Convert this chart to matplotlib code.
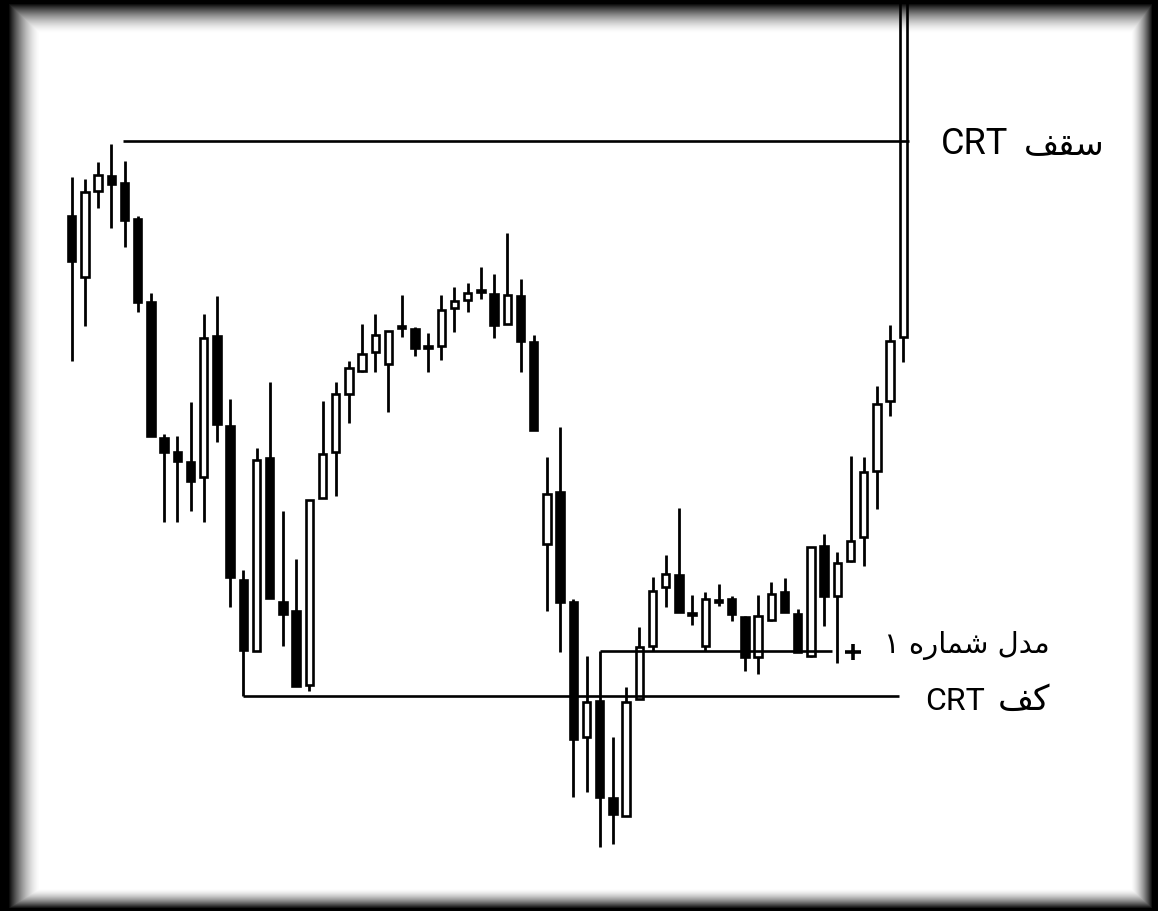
import numpy as np
import matplotlib
matplotlib.use('Agg')
import matplotlib.pyplot as plt

# candle data (price units, one row per bar)
opens = [783, 722, 808, 823, 816, 780, 697, 561, 547, 537, 522, 663, 573, 419, 348, 541,
         397, 388, 314, 501, 547, 605, 628, 647, 635, 673, 670, 653, 653, 691, 699, 709,
         705, 675, 703, 657, 455, 507, 397, 262, 298, 201, 183, 300, 353, 412, 424, 386,
         353, 399, 400, 382, 342, 379, 407, 385, 343, 453, 403, 438, 462, 528, 598, 662]
highs = [822, 820, 837, 855, 838, 783, 706, 565, 563, 597, 685, 703, 600, 429, 551, 617,
         488, 440, 499, 598, 617, 638, 675, 685, 668, 704, 672, 666, 704, 712, 716, 732,
         725, 766, 720, 664, 542, 572, 400, 343, 348, 262, 312, 372, 422, 444, 491, 404,
         407, 415, 403, 383, 404, 417, 421, 390, 452, 465, 447, 543, 542, 613, 674, 1030]
lows = [638, 673, 791, 771, 752, 687, 563, 477, 477, 488, 477, 557, 392, 303, 348, 401,
        353, 313, 308, 501, 503, 576, 627, 627, 587, 662, 643, 627, 639, 667, 687, 700,
        661, 675, 627, 569, 388, 347, 202, 207, 152, 155, 183, 300, 348, 392, 387, 374,
        348, 393, 378, 328, 325, 378, 387, 347, 342, 373, 336, 437, 433, 490, 583, 637]
closes = [738, 807, 824, 815, 779, 697, 563, 547, 538, 518, 661, 575, 422, 349, 539, 401,
          385, 313, 499, 545, 605, 631, 645, 664, 668, 671, 651, 651, 689, 698, 706, 707,
          674, 704, 658, 569, 505, 397, 260, 297, 202, 185, 297, 352, 408, 425, 387, 384,
          400, 397, 385, 342, 383, 405, 387, 347, 452, 403, 436, 458, 527, 595, 658, 1030]

# horizontal levels: (price, first bar, last bar)
crt_high = (858, 3.9, 63.4)
crt_low = (303, 13.0, 62.7)
model_one = (348, 40.0, 57.6)
entry_mark = (59.2, 347)

# Persian words in visual (left-to-right) order, already shaped
word_high = '\ufed2\ufed8\ufeb3'                                  # سقف
word_low = '\ufed2\ufedb'                                         # کف
label_model = '\u06f1 \ufee9\ufead\ufe8e\ufee4\ufeb7 \ufedd\ufeaa\ufee3'  # مدل شماره ۱

W, H = 1158, 912
fig = plt.figure(figsize=(W / 100, H / 100), dpi=100)
ax = fig.add_axes([0, 0, 1, 1])
ax.set_xlim(-71.7 / 13.2, (W - 71.7) / 13.2)
ax.set_ylim(1000 - H, 1000)
ax.axis('off')

o = np.array(opens)
c = np.array(closes)
x = np.arange(len(o))
up = c >= o

ax.vlines(x, lows, highs, color='black', lw=2.0, zorder=1)
ax.bar(x, np.maximum(np.abs(c - o), 1), bottom=np.minimum(o, c), width=0.56,
       color=np.where(up, 'white', 'black'), edgecolor='black', lw=1.9, zorder=2)

for lvl, x0, x1 in (crt_high, crt_low, model_one):
    ax.hlines(lvl, x0, x1, color='black', lw=1.9, zorder=3)
ax.plot(*entry_mark, marker='+', ms=11, mew=2.6, color='black', zorder=3)

renderer = fig.canvas.get_renderer()

def crt_label(x_right, y_base, word, size_ar, size_lat, gap):
    t = fig.text(x_right / W, 1 - y_base / H, word, ha='right', va='baseline',
                 fontsize=size_ar, family='DejaVu Sans')
    x0 = t.get_window_extent(renderer).x0
    fig.text((x0 - gap) / W, 1 - y_base / H, 'CRT', ha='right', va='baseline',
             fontsize=size_lat, family='Roboto')

crt_label(1105, 154, word_high, 24.5, 26, 16)
crt_label(1050, 710, word_low, 25, 23, 13)
fig.text(1050 / W, 1 - 653 / H, label_model, ha='right', va='baseline',
         fontsize=21, family='DejaVu Sans')

# dark vignette frame round the picture
yy, xx = np.mgrid[0:H, 0:W].astype(float)
def edge(d, d0, w):
    return np.clip(1 - (d - d0) / w, 0, 1) ** 1.6
alpha = np.maximum.reduce([edge(xx, 8, 32), edge(yy, 4, 30),
                           edge(W - 1 - xx, 5, 22), edge(H - 1 - yy, 2, 20)])
vig = np.zeros((H, W, 4))
vig[..., 3] = alpha
fig.figimage(vig, origin='upper', zorder=10)

fig.savefig('out.png', dpi=100)
